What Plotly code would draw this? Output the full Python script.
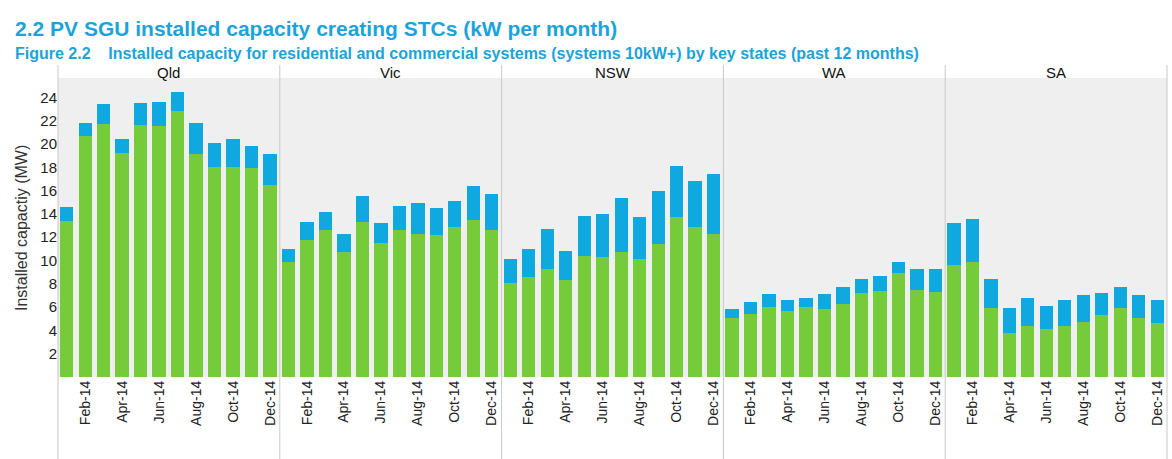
import plotly.graph_objects as go
from plotly.subplots import make_subplots

months = ["Jan-14", "Feb-14", "Mar-14", "Apr-14", "May-14", "Jun-14",
          "Jul-14", "Aug-14", "Sep-14", "Oct-14", "Nov-14", "Dec-14"]
tick_labels = ["Feb-14", "Apr-14", "Jun-14", "Aug-14", "Oct-14", "Dec-14"]
states = ["Qld", "Vic", "NSW", "WA", "SA"]

# Residential (green) installed capacity, MW
qld_res = [13.4, 20.7, 21.7, 19.2, 21.6, 21.5, 22.8, 19.1, 18.0, 18.0, 17.9, 16.5]
vic_res = [9.9, 11.8, 12.6, 10.7, 13.3, 11.5, 12.6, 12.3, 12.2, 12.9, 13.5, 12.6]
nsw_res = [8.1, 8.6, 9.3, 8.3, 10.4, 10.3, 10.7, 10.1, 11.4, 13.7, 12.9, 12.3]
wa_res = [5.1, 5.4, 6.0, 5.7, 6.0, 5.8, 6.3, 7.2, 7.4, 8.9, 7.5, 7.3]
sa_res = [9.6, 9.9, 5.9, 3.8, 4.4, 4.1, 4.4, 4.7, 5.3, 5.9, 5.1, 4.6]

# Commercial (blue) installed capacity, MW
qld_com = [1.2, 1.1, 1.7, 1.2, 1.9, 2.1, 1.7, 2.7, 2.1, 2.4, 1.9, 2.6]
vic_com = [1.1, 1.5, 1.6, 1.6, 2.2, 1.7, 2.1, 2.6, 2.3, 2.2, 2.9, 3.1]
nsw_com = [2.0, 2.4, 3.4, 2.5, 3.4, 3.7, 4.7, 3.6, 4.6, 4.4, 3.9, 5.1]
wa_com = [0.7, 1.0, 1.1, 0.9, 0.8, 1.3, 1.4, 1.2, 1.3, 1.0, 1.8, 2.0]
sa_com = [3.6, 3.7, 2.5, 2.1, 2.4, 2.0, 2.2, 2.3, 1.9, 1.8, 1.9, 2.0]

residential = [qld_res, vic_res, nsw_res, wa_res, sa_res]
commercial = [qld_com, vic_com, nsw_com, wa_com, sa_com]

GREEN = "#76CB3B"
BLUE = "#10A9DF"
TITLE_BLUE = "#1BA3DB"
FONT = "Liberation Sans, Arial"

fig = make_subplots(rows=1, cols=5, shared_yaxes=True, horizontal_spacing=0)

for i, st in enumerate(states):
    fig.add_trace(go.Bar(x=months, y=residential[i], marker_color=GREEN,
                         marker_line_width=0, name="Residential",
                         showlegend=False), row=1, col=i + 1)
    fig.add_trace(go.Bar(x=months, y=commercial[i], marker_color=BLUE,
                         marker_line_width=0, name="Commercial",
                         showlegend=False), row=1, col=i + 1)
    fig.update_xaxes(type="category", categoryorder="array", categoryarray=months,
                     tickmode="array", tickvals=tick_labels, ticktext=tick_labels,
                     tickangle=-90, showgrid=False, ticks="", showline=False,
                     zeroline=False, tickfont=dict(family=FONT, size=14, color="#222"),
                     range=[-0.47, 11.53], row=1, col=i + 1)

fig.update_yaxes(range=[0, 25.66], tickvals=list(range(2, 25, 2)), showgrid=False,
                 zeroline=False, showline=False, ticks="",
                 tickfont=dict(family=FONT, size=15, color="#222"))

fig.update_layout(
    barmode="stack",
    bargap=0.28,
    width=1172, height=459,
    margin=dict(l=58, r=5, t=78, b=82),
    plot_bgcolor="#EFEFEF",
    paper_bgcolor="white",
    font=dict(family=FONT, color="#222"),
    showlegend=False,
)

PW, PH = 1109, 299

# Title and subtitle
fig.add_annotation(text="<b>2.2 PV SGU installed capacity creating STCs (kW per month)</b>",
                   xref="paper", yref="paper", x=(13 - 58) / PW, y=1 + (78 - 29) / PH,
                   xanchor="left", yanchor="middle", showarrow=False,
                   font=dict(size=21, color=TITLE_BLUE, family=FONT))
fig.add_annotation(text="<b>Figure 2.2    Installed capacity for residential and commercial systems (systems 10kW+) by key states (past 12 months)</b>",
                   xref="paper", yref="paper", x=(13 - 58) / PW, y=1 + (78 - 53) / PH,
                   xanchor="left", yanchor="middle", showarrow=False,
                   font=dict(size=16, color=TITLE_BLUE, family=FONT))

# Strip labels
for i, st in enumerate(states):
    fig.add_annotation(text=st, xref="paper", yref="paper", x=(i + 0.5) / 5,
                       y=1 + (78 - 72) / PH, xanchor="center", yanchor="middle",
                       showarrow=False, font=dict(size=15, color="#111", family=FONT))

# Panel separators
for k in range(6):
    fig.add_shape(type="line", xref="paper", yref="paper", x0=k / 5, x1=k / 5,
                  y0=-82 / PH, y1=1 + (78 - 65) / PH,
                  line=dict(color="#C8C8C8", width=1))

# Y-axis title
fig.add_annotation(text="Installed capactiy (MW)", xref="paper", yref="paper",
                   x=(21 - 58) / PW, y=(377 - 228) / PH, textangle=-90,
                   xanchor="center", yanchor="middle", showarrow=False,
                   font=dict(size=16, color="#333", family=FONT))

fig.write_html("out.html", config={"displayModeBar": False},
               post_script="document.body.style.margin='0';")
